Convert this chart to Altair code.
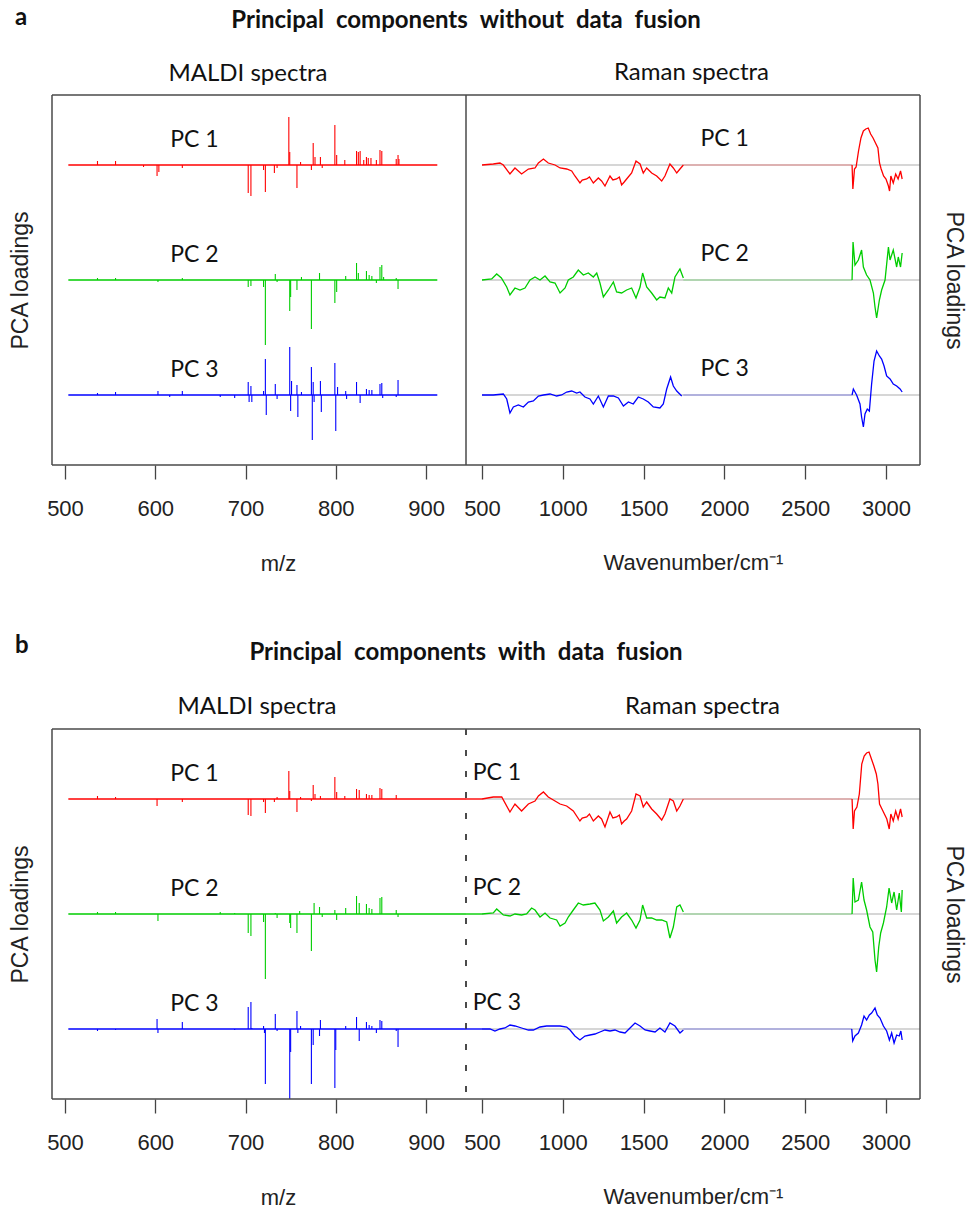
import altair as alt
import pandas as pd

# ---------------- data ----------------
PCS = ["PC 1", "PC 2", "PC 3"]
PC_COLORS = ["#FF0000", "#00CD00", "#0000FF"]
PC_SHIFT = [0.0, -1.15, -2.3]          # vertical offset of each PC trace

# MALDI loadings, panel a (without data fusion): peak m/z and loading
MZ_A1 = [536, 556, 587, 602, 604, 630, 703, 706, 720, 722, 732, 735, 748, 749, 757, 761, 773, 775, 777, 783,
         785, 799, 801, 810, 823, 825, 827, 831, 834, 836, 839, 845, 849, 851, 867, 869, 870]
LD_A1 = [0.04, 0.04, -0.02, -0.11, -0.07, -0.03, -0.28, -0.31, -0.05, -0.27, -0.08, -0.03, 0.48, 0.13, -0.23,
         0.03, -0.05, 0.22, 0.08, 0.08, -0.03, 0.40, 0.10, 0.05, 0.14, 0.13, 0.14, 0.05, 0.08, 0.07, 0.07, 0.05,
         0.15, 0.14, 0.06, 0.10, 0.06]
MZ_A2 = [536, 556, 603, 630, 703, 706, 720, 722, 733, 735, 749, 750, 757, 762, 773, 782, 799, 801, 811, 823,
         825, 834, 837, 840, 845, 849, 851, 853, 867, 869]
LD_A2 = [0.02, 0.02, -0.02, 0.02, -0.07, -0.06, -0.07, -0.65, 0.06, -0.02, -0.31, -0.17, -0.10, 0.03, -0.49,
         0.07, -0.23, -0.12, 0.04, 0.17, 0.07, 0.09, 0.05, 0.04, -0.03, 0.13, 0.15, 0.03, 0.02, -0.09]
MZ_A3 = [536, 556, 603, 616, 630, 672, 688, 703, 704, 706, 707, 720, 722, 723, 733, 735, 749, 750, 751, 757,
         758, 762, 773, 774, 775, 776, 783, 784, 799, 800, 802, 811, 812, 823, 827, 834, 837, 840, 849, 851,
         852, 867, 869]
LD_A3 = [0.02, 0.03, 0.04, -0.02, 0.04, -0.02, -0.03, 0.13, -0.07, 0.09, -0.07, 0.04, 0.36, -0.20, 0.11, -0.04,
         0.48, -0.16, 0.14, 0.10, -0.22, 0.03, 0.28, -0.45, 0.13, -0.07, 0.14, -0.17, 0.32, -0.36, 0.08, 0.04,
         -0.04, 0.13, -0.08, 0.06, 0.05, 0.05, 0.11, 0.12, -0.03, -0.02, 0.15]

# MALDI loadings, panel b (with data fusion)
MZ_B1 = [536, 556, 602, 630, 703, 706, 720, 722, 732, 735, 748, 749, 757, 761, 773, 775, 777, 783, 799, 801,
         810, 823, 826, 834, 837, 840, 849, 851, 867]
LD_B1 = [0.03, 0.02, -0.07, -0.03, -0.16, -0.17, -0.03, -0.14, -0.03, 0.02, 0.28, 0.08, -0.13, 0.02, -0.02,
         0.14, 0.05, 0.03, 0.22, 0.07, 0.03, 0.10, 0.09, 0.05, 0.04, 0.04, 0.11, 0.10, 0.04]
MZ_B2 = [536, 556, 603, 672, 688, 703, 706, 720, 722, 733, 735, 749, 750, 757, 760, 773, 776, 782, 785, 799,
         801, 811, 823, 826, 834, 837, 840, 849, 851, 867, 869]
LD_B2 = [0.02, 0.02, -0.07, 0.02, 0.01, -0.19, -0.22, -0.08, -0.65, 0.01, -0.04, -0.09, -0.14, -0.19, 0.03,
         -0.37, 0.11, 0.07, -0.03, 0.04, -0.06, 0.06, 0.18, 0.11, 0.10, 0.06, 0.05, 0.16, 0.17, 0.04, -0.03]
MZ_B3 = [536, 556, 602, 603, 630, 688, 703, 706, 707, 720, 721, 722, 733, 735, 749, 750, 757, 758, 761, 773,
         775, 782, 783, 799, 800, 811, 823, 826, 834, 837, 840, 845, 849, 851, 867, 869]
LD_B3 = [-0.02, -0.01, 0.10, -0.04, 0.07, -0.01, 0.22, 0.27, 0.01, 0.03, -0.04, -0.55, 0.15, -0.02, -0.70,
         -0.23, 0.18, -0.04, 0.03, -0.55, -0.16, -0.07, 0.09, -0.59, -0.21, 0.03, 0.12, -0.12, 0.07, 0.04,
         0.03, -0.04, 0.09, 0.08, -0.02, -0.18]

# Raman loadings, panel a: fingerprint region (LO) and CH-stretch region (HI)
WN_A1_LO = [500, 570, 611, 632, 673, 704, 745, 787, 828, 849, 880, 910, 952, 983, 1024, 1055, 1075, 1106, 1120,
            1148, 1165, 1189, 1220, 1240, 1261, 1292, 1310, 1333, 1350, 1364, 1380, 1395, 1426, 1453, 1478,
            1498, 1519, 1550, 1581, 1612, 1632, 1663, 1684, 1705, 1725, 1746]
RL_A1_LO = [0, 0.01, 0.02, 0, -0.09, -0.03, -0.09, -0.04, -0.03, 0.02, 0.06, 0.02, 0, -0.03, -0.04, -0.06,
            -0.11, -0.18, -0.15, -0.14, -0.12, -0.18, -0.13, -0.16, -0.21, -0.11, -0.15, -0.14, -0.12, -0.20,
            -0.17, -0.14, -0.08, 0.04, 0.01, -0.08, -0.03, -0.08, -0.11, -0.16, -0.11, 0.01, -0.03, -0.08,
            -0.04, 0]
WN_A1_HI = [2790, 2795, 2805, 2815, 2830, 2845, 2860, 2875, 2890, 2905, 2920, 2935, 2950, 2960, 2970, 2985,
            3000, 3015, 3022, 3030, 3045, 3060, 3075, 3090, 3100]
RL_A1_HI = [0, -0.24, -0.04, -0.02, 0.14, 0.27, 0.34, 0.36, 0.37, 0.31, 0.27, 0.22, 0.17, 0.02, -0.04, -0.11,
            -0.14, -0.21, -0.26, -0.11, -0.18, -0.09, -0.14, -0.06, -0.14]
WN_A2_LO = [500, 560, 591, 620, 653, 673, 704, 735, 766, 797, 828, 859, 890, 921, 952, 983, 1014, 1034, 1065,
            1096, 1127, 1158, 1189, 1210, 1230, 1251, 1282, 1313, 1333, 1364, 1395, 1426, 1453, 1478, 1494,
            1519, 1550, 1581, 1601, 1632, 1653, 1674, 1694, 1725, 1746]
RL_A2_LO = [0, 0.01, 0.06, 0.02, -0.07, -0.15, -0.08, -0.10, -0.08, 0.0, 0.03, 0.0, 0.04, -0.02, -0.03, -0.13,
            -0.08, 0.0, 0.03, 0.10, 0.05, 0.07, 0.03, 0.07, -0.03, -0.17, -0.10, -0.02, -0.12, -0.13, -0.10,
            -0.08, -0.18, -0.07, 0.07, -0.07, -0.13, -0.20, -0.17, -0.18, -0.08, -0.13, 0.03, 0.11, 0.02]
WN_A2_HI = [2790, 2796, 2808, 2829, 2849, 2860, 2880, 2901, 2922, 2932, 2942, 2959, 2973, 2994, 3015, 3025,
            3045, 3066, 3076, 3090, 3100]
RL_A2_HI = [0, 0.38, 0.15, 0.20, 0.30, 0.13, 0.05, 0.0, -0.13, -0.27, -0.38, -0.20, -0.10, 0.0, 0.33, 0.20,
            0.30, 0.13, 0.23, 0.13, 0.27]
WN_A3_LO = [500, 570, 632, 653, 673, 694, 725, 756, 787, 818, 849, 880, 921, 962, 993, 1024, 1055, 1086, 1106,
            1137, 1168, 1189, 1220, 1251, 1282, 1313, 1344, 1375, 1406, 1436, 1467, 1498, 1529, 1560, 1601,
            1622, 1643, 1667, 1684, 1705, 1736]
RL_A3_LO = [0, 0, 0.01, -0.04, -0.18, -0.12, -0.10, -0.12, -0.07, -0.06, -0.01, 0, 0.01, -0.01, 0, 0.03, 0.04,
            0.02, 0.03, -0.02, -0.04, -0.09, -0.01, -0.12, -0.01, -0.01, -0.03, -0.11, -0.07, -0.09, -0.02,
            -0.04, -0.07, -0.12, -0.13, -0.09, 0.06, 0.18, 0.09, 0.04, -0.01]
WN_A3_HI = [2790, 2798, 2818, 2839, 2849, 2860, 2870, 2884, 2897, 2911, 2926, 2942, 2959, 2973, 2988, 3004,
            3025, 3045, 3066, 3087, 3100]
RL_A3_HI = [0, 0.06, 0, -0.09, -0.22, -0.32, -0.19, -0.14, -0.16, 0.11, 0.34, 0.44, 0.39, 0.36, 0.29, 0.19,
            0.16, 0.11, 0.09, 0.06, 0.03]

# Raman loadings, panel b
WN_B1_LO = [500, 570, 622, 673, 704, 745, 787, 828, 849, 880, 910, 952, 983, 1024, 1065, 1106, 1120, 1148,
            1165, 1189, 1220, 1240, 1261, 1292, 1310, 1333, 1350, 1364, 1380, 1395, 1426, 1453, 1478, 1498,
            1519, 1550, 1581, 1612, 1632, 1663, 1684, 1705, 1725, 1746]
RL_B1_LO = [0, 0.02, 0.02, -0.13, -0.05, -0.12, -0.05, -0.02, 0.03, 0.07, 0.02, -0.02, -0.05, -0.07, -0.12,
            -0.22, -0.19, -0.18, -0.15, -0.22, -0.17, -0.20, -0.28, -0.13, -0.19, -0.18, -0.16, -0.25, -0.22,
            -0.20, -0.12, 0.05, 0.03, -0.08, -0.03, -0.10, -0.15, -0.21, -0.15, 0, -0.02, -0.12, -0.07, 0]
WN_B1_HI = [2790, 2797, 2805, 2820, 2835, 2850, 2865, 2880, 2895, 2910, 2925, 2940, 2950, 2960, 2975, 2990,
            3005, 3020, 3030, 3045, 3060, 3075, 3090, 3100]
RL_B1_HI = [0, -0.30, -0.12, -0.08, 0.05, 0.35, 0.43, 0.46, 0.47, 0.40, 0.33, 0.25, 0.15, -0.05, -0.10, -0.15,
            -0.20, -0.30, -0.15, -0.22, -0.12, -0.20, -0.10, -0.18]
WN_B2_LO = [500, 570, 591, 632, 673, 704, 745, 776, 807, 828, 859, 890, 921, 962, 983, 1014, 1034, 1065, 1096,
            1127, 1168, 1199, 1230, 1251, 1282, 1313, 1333, 1364, 1395, 1426, 1453, 1478, 1494, 1519, 1550,
            1581, 1612, 1643, 1663, 1684, 1705, 1725, 1746]
RL_B2_LO = [0, 0.01, 0.05, -0.01, -0.02, 0, -0.01, 0, 0.06, 0.04, -0.03, 0.01, -0.04, -0.06, -0.12, -0.09,
            -0.03, 0.04, 0.11, 0.09, 0.10, 0.11, 0.04, -0.07, -0.03, 0.03, -0.09, -0.03, 0.01, -0.06, -0.14,
            -0.06, 0.09, -0.04, -0.04, -0.06, -0.06, -0.08, -0.24, -0.13, 0.07, 0.09, 0.02]
WN_B2_HI = [2790, 2797, 2808, 2829, 2849, 2864, 2880, 2901, 2918, 2932, 2942, 2955, 2967, 2984, 3004, 3019,
            3035, 3050, 3066, 3082, 3095, 3100]
RL_B2_HI = [0, 0.36, 0.12, 0.14, 0.32, 0.14, 0.04, -0.13, -0.18, -0.46, -0.58, -0.33, -0.19, -0.09, 0.07, 0.26,
            0.11, 0.22, 0.04, 0.21, 0.02, 0.24]
WN_B3_LO = [500, 550, 580, 611, 642, 673, 704, 745, 787, 818, 859, 900, 941, 983, 1024, 1045, 1075, 1106, 1137,
            1168, 1199, 1230, 1261, 1292, 1323, 1354, 1385, 1416, 1447, 1478, 1509, 1540, 1571, 1601, 1632,
            1663, 1694, 1725, 1746]
RL_B3_LO = [0, 0, -0.02, 0, 0.01, 0.04, 0.03, 0.01, -0.01, -0.01, 0.02, 0.03, 0.03, 0.03, 0.02, -0.01, -0.07,
            -0.11, -0.07, -0.06, -0.05, -0.03, -0.01, -0.02, -0.01, -0.03, -0.04, 0.01, 0.06, 0.03, -0.01,
            -0.02, -0.03, 0.01, -0.03, 0.06, 0.03, -0.04, -0.01]
WN_B3_HI = [2788, 2794, 2808, 2829, 2849, 2864, 2880, 2897, 2911, 2932, 2946, 2963, 2984, 3004, 3021, 3035,
            3050, 3066, 3082, 3092, 3100]
RL_B3_HI = [0, -0.12, -0.07, -0.04, 0.04, 0.13, 0.09, 0.14, 0.16, 0.21, 0.14, 0.11, 0.03, -0.02, -0.11, -0.04,
            -0.14, -0.06, -0.07, -0.02, -0.11]

MZ_TICKS = [500, 600, 700, 800, 900]
WN_TICKS = [500, 1000, 1500, 2000, 2500, 3000]

# ---------------- layout / style ----------------
W_L, W_R, H = 414, 454, 370
MZ_DOMAIN = [485.6, 944.3]
WN_DOMAIN = [401.0, 3210.4]
Y_DOMAIN = [-3.0, 0.7]
MALDI_SPAN = [503.7, 912.5]
RAMAN_GAP = [1746, 2790]
BOX = "#4a4a4a"
TXT = "#111111"
TEXT_FONT = "Lato"
AX_FONT = "Liberation Sans"

shift = dict(zip(PCS, PC_SHIFT))
ONE = pd.DataFrame({"k": [0]})


def stick_df(series):
    rows = []
    for pc, (mz, ld) in zip(PCS, series):
        for m, v in zip(mz, ld):
            rows.append({"pc": pc, "x": m, "y": shift[pc], "y2": shift[pc] + v})
    return pd.DataFrame(rows)


def raman_df(series):
    rows = []
    for pc, segs in zip(PCS, series):
        for k, (w, v) in enumerate(segs):
            for a, b in zip(w, v):
                rows.append({"pc": pc, "seg": f"{pc}-{k}", "x": a, "y": shift[pc] + b})
    return pd.DataFrame(rows)


def base_df(x0, x1):
    return pd.DataFrame([{"pc": pc, "x": x0, "x2": x1, "y": shift[pc]} for pc in PCS])


def label_df(xpos, dy):
    return pd.DataFrame([{"pc": pc, "x": xpos, "y": shift[pc] + dy, "label": pc} for pc in PCS])


color = alt.Color("pc:N", scale=alt.Scale(domain=PCS, range=PC_COLORS), legend=None)
y_scale = alt.Scale(domain=Y_DOMAIN, nice=False, zero=False)

AXB = dict(domain=False, grid=False, ticks=True, tickSize=14, tickWidth=1.3, tickColor="#444444",
           labelFont=AX_FONT, labelFontSize=22, labelColor="#222222", labelPadding=19,
           labelFlush=False, labelOverlap=False, format="d",
           titleFont=AX_FONT, titleFontSize=22, titleFontWeight="normal", titleColor="#222222",
           titleBaseline="alphabetic", titleAlign="center")

YAX_L = alt.Axis(title="PCA loadings", labels=False, ticks=False, domain=False, grid=False,
                 titleFont=AX_FONT, titleFontSize=23, titleFontWeight="normal", titleColor="#222222",
                 titleX=-32, titleY=H / 2, titleAngle=270, titleBaseline="middle", titleAlign="center")
YAX_R = alt.Axis(title="PCA loadings", orient="right", labels=False, ticks=False, domain=False, grid=False,
                 titleFont=AX_FONT, titleFontSize=23, titleFontWeight="normal", titleColor="#222222",
                 titleX=33, titleY=H / 2, titleAngle=90, titleBaseline="middle", titleAlign="center")


def hline(y, x0, x1, width=1.5, dash=None):
    kw = {"strokeDash": dash} if dash else {}
    return alt.Chart(ONE).mark_rule(color=BOX, strokeWidth=width, **kw).encode(
        x=alt.value(x0), x2=alt.value(x1), y=alt.value(y))


def vline(x, y0, y1, width=1.5, dash=None):
    kw = {"strokeDash": dash} if dash else {}
    return alt.Chart(ONE).mark_rule(color=BOX, strokeWidth=width, **kw).encode(
        x=alt.value(x), y=alt.value(y0), y2=alt.value(y1))


def note(text, x, y, size, weight="normal", align="center"):
    return alt.Chart(ONE).mark_text(text=text, font=TEXT_FONT, fontSize=size, fontWeight=weight,
                                    align=align, baseline="alphabetic", color=TXT).encode(
        x=alt.value(x), y=alt.value(y))


def invisible_point(x, y):
    return alt.Chart(ONE).mark_rule(strokeWidth=0.01, strokeOpacity=0).encode(
        x=alt.value(x), x2=alt.value(x + 0.5), y=alt.value(y))


def maldi_panel(series, span, dashed, letter, title, letter_y, title_y, sub_x, sub_y, anchor=False):
    xs = alt.Scale(domain=MZ_DOMAIN, nice=False, zero=False)
    xax = alt.Axis(values=MZ_TICKS, title="m/z", titleX=226, titleY=105, **AXB)

    def X():
        return alt.X("x:Q", scale=xs, axis=xax)

    def Y():
        return alt.Y("y:Q", scale=y_scale, axis=YAX_L)

    layers = [
        alt.Chart(base_df(*span)).mark_rule(strokeWidth=1.4).encode(x=X(), x2="x2:Q", y=Y(), color=color),
        alt.Chart(stick_df(series)).mark_rule(strokeWidth=1.1).encode(x=X(), y=Y(), y2="y2:Q", color=color),
        alt.Chart(label_df(643.5, 0.18)).mark_text(font=TEXT_FONT, fontSize=23, align="center",
                                                  baseline="alphabetic", color=TXT).encode(
            x=X(), y=Y(), text="label:N"),
        hline(0, 0, W_L), hline(H, 0, W_L), vline(0, 0, H),
    ]
    if dashed:
        layers.append(vline(W_L, 0, H, width=2, dash=[6, 15]))
    else:
        layers.append(vline(W_L, 0, H))
    layers += [
        note(letter, -37, letter_y, 24, "bold", "left"),
        note(title, 414, title_y, 24, "bold"),
        note("MALDI spectra", sub_x, sub_y, 24),
    ]
    if anchor:
        layers.append(invisible_point(-52, -95))
    return alt.layer(*layers).properties(width=W_L, height=H)


def raman_panel(series, fused, lab_x, lab_align, sub_x, sub_y, anchor=False):
    xs = alt.Scale(domain=WN_DOMAIN, nice=False, zero=False)
    xax = alt.Axis(values=WN_TICKS, title="Wavenumber/cm\u207b\u00b9", titleX=227, titleY=104, **AXB)

    def X():
        return alt.X("x:Q", scale=xs, axis=xax)

    def Y():
        return alt.Y("y:Q", scale=y_scale, axis=YAX_R)

    layers = [
        alt.Chart(base_df(500, WN_DOMAIN[1])).mark_rule(color="#c8c8c8", strokeWidth=1.6).encode(
            x=X(), x2="x2:Q", y=Y()),
        alt.Chart(base_df(*RAMAN_GAP)).mark_rule(strokeWidth=1.2, opacity=0.35).encode(
            x=X(), x2="x2:Q", y=Y(), color=color),
    ]
    if fused:
        layers.append(alt.Chart(base_df(WN_DOMAIN[0], 500)).mark_rule(strokeWidth=1.4).encode(
            x=X(), x2="x2:Q", y=Y(), color=color))
    layers += [
        alt.Chart(raman_df(series)).mark_line(strokeWidth=1.3).encode(
            x=X(), y=Y(), color=color, detail="seg:N"),
        alt.Chart(label_df(lab_x, 0.19)).mark_text(font=TEXT_FONT, fontSize=23, align=lab_align,
                                                  baseline="alphabetic", color=TXT).encode(
            x=X(), y=Y(), text="label:N"),
        hline(0, 0, W_R), hline(H, 0, W_R), vline(W_R, 0, H),
        note("Raman spectra", sub_x, sub_y, 24),
    ]
    if anchor:
        layers.append(invisible_point(W_R + 47, H / 2))
    return alt.layer(*layers).properties(width=W_R, height=H)


SP = "\u2002"
a_left = maldi_panel([(MZ_A1, LD_A1), (MZ_A2, LD_A2), (MZ_A3, LD_A3)], MALDI_SPAN, False, "a",
                     SP.join(["Principal", "components", "without", "data", "fusion"]), -70, -67, 196, -14,
                     anchor=True)
a_right = raman_panel([[(WN_A1_LO, RL_A1_LO), (WN_A1_HI, RL_A1_HI)],
                       [(WN_A2_LO, RL_A2_LO), (WN_A2_HI, RL_A2_HI)],
                       [(WN_A3_LO, RL_A3_LO), (WN_A3_HI, RL_A3_HI)]], False, 2002, "center", 225.5, -15,
                      anchor=True)
b_left = maldi_panel([(MZ_B1, LD_B1), (MZ_B2, LD_B2), (MZ_B3, LD_B3)], [MALDI_SPAN[0], MZ_DOMAIN[1]], True, "b",
                     SP.join(["Principal", "components", "with", "data", "fusion"]), -76, -69, 205, -15)
b_right = raman_panel([[(WN_B1_LO, RL_B1_LO), (WN_B1_HI, RL_B1_HI)],
                       [(WN_B2_LO, RL_B2_LO), (WN_B2_HI, RL_B2_HI)],
                       [(WN_B3_LO, RL_B3_LO), (WN_B3_HI, RL_B3_HI)]], True, 442.5, "left", 236.5, -15)

chart = alt.concat(a_left, a_right, b_left, b_right, columns=2,
                   spacing={"row": 264, "column": 0}, bounds="flush").resolve_scale(
    x="independent", y="independent").properties(padding=0).configure_view(stroke=None)

chart.save("out.html", embed_options={"renderer": "svg", "actions": False})
